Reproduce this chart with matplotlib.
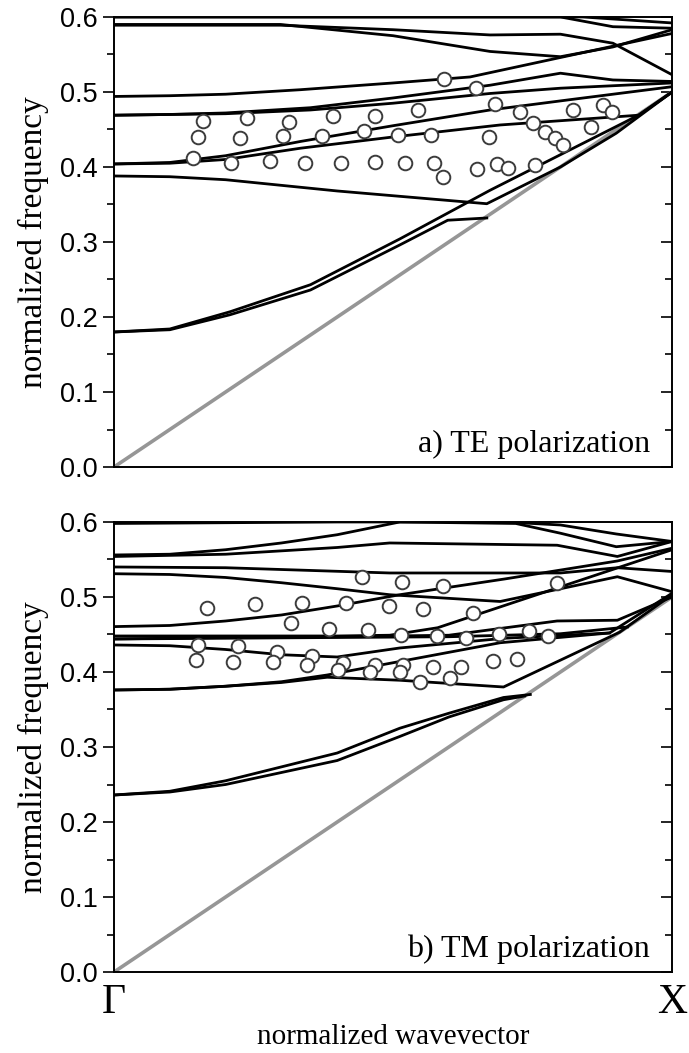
import matplotlib
matplotlib.use("Agg")
import matplotlib.pyplot as plt
from matplotlib.ticker import MultipleLocator, FormatStrFormatter

# ---- TE bands: (k, frequency) pairs, k from Gamma (0) to X (0.5)
te_bands = [
    ([0, 0.05, 0.104, 0.176, 0.256, 0.299, 0.334], [0.18, 0.183, 0.203, 0.236, 0.296, 0.329, 0.332]),
    ([0, 0.05, 0.104, 0.176, 0.256, 0.337, 0.47, 0.5], [0.18, 0.184, 0.207, 0.243, 0.304, 0.369, 0.469, 0.5]),
    ([0, 0.05, 0.1, 0.2, 0.334, 0.4, 0.45, 0.5], [0.388, 0.387, 0.383, 0.368, 0.351, 0.40, 0.445, 0.5]),
    ([0, 0.05, 0.1, 0.167, 0.25, 0.337, 0.41, 0.5], [0.404, 0.406, 0.415, 0.434, 0.455, 0.476, 0.49, 0.507]),
    ([0, 0.05, 0.1, 0.167, 0.25, 0.346, 0.47, 0.5], [0.404, 0.405, 0.41, 0.425, 0.44, 0.456, 0.469, 0.5]),
    ([0, 0.05, 0.1, 0.176, 0.25, 0.337, 0.4, 0.447, 0.5], [0.469, 0.47, 0.472, 0.479, 0.492, 0.509, 0.525, 0.516, 0.514]),
    ([0, 0.1, 0.176, 0.25, 0.337, 0.4, 0.5], [0.469, 0.471, 0.476, 0.485, 0.498, 0.505, 0.512]),
    ([0, 0.05, 0.1, 0.167, 0.25, 0.319, 0.5], [0.494, 0.495, 0.497, 0.503, 0.512, 0.52, 0.578]),
    ([0, 0.2, 0.4, 0.447, 0.5], [0.6, 0.6, 0.6, 0.587, 0.585]),
    ([0, 0.42, 0.5], [0.6, 0.6, 0.592]),
    ([0, 0.149, 0.25, 0.337, 0.4, 0.447, 0.5], [0.589, 0.589, 0.583, 0.576, 0.577, 0.565, 0.523]),
    ([0, 0.149, 0.25, 0.337, 0.4, 0.447, 0.5], [0.59, 0.59, 0.575, 0.554, 0.547, 0.56, 0.583]),
]

te_k = [0.080, 0.075, 0.071, 0.119, 0.113, 0.105, 0.157, 0.151, 0.140, 0.171,
        0.196, 0.186, 0.203, 0.234, 0.224, 0.234, 0.254, 0.261, 0.272, 0.284,
        0.287, 0.295, 0.296, 0.324, 0.341, 0.336, 0.325, 0.343, 0.364, 0.375,
        0.386, 0.395, 0.402, 0.353, 0.377, 0.411, 0.427, 0.438, 0.446]
te_f = [0.461, 0.440, 0.412, 0.465, 0.439, 0.405, 0.460, 0.441, 0.408, 0.405,
        0.468, 0.441, 0.405, 0.468, 0.448, 0.407, 0.443, 0.405, 0.476, 0.443,
        0.405, 0.387, 0.517, 0.505, 0.484, 0.440, 0.397, 0.404, 0.473, 0.459,
        0.447, 0.439, 0.429, 0.399, 0.403, 0.476, 0.453, 0.483, 0.473]

# ---- TM bands
tm_bands = [
    ([0, 0.2, 0.35, 0.4, 0.45, 0.5], [0.598, 0.6, 0.6, 0.596, 0.584, 0.574]),
    ([0, 0.05, 0.1, 0.15, 0.2, 0.256, 0.36, 0.4, 0.45, 0.5], [0.556, 0.557, 0.563, 0.572, 0.583, 0.6, 0.598, 0.585, 0.567, 0.574]),
    ([0, 0.1, 0.2, 0.247, 0.397, 0.451, 0.5], [0.554, 0.557, 0.566, 0.572, 0.569, 0.554, 0.574]),
    ([0, 0.1, 0.247, 0.4, 0.451, 0.5], [0.54, 0.539, 0.532, 0.532, 0.539, 0.534]),
    ([0, 0.05, 0.1, 0.15, 0.2, 0.247, 0.346, 0.451, 0.5], [0.531, 0.53, 0.526, 0.519, 0.511, 0.503, 0.494, 0.527, 0.507]),
    ([0, 0.05, 0.1, 0.15, 0.2, 0.256, 0.35, 0.451, 0.5], [0.4605, 0.462, 0.468, 0.476, 0.488, 0.503, 0.524, 0.548, 0.565]),
    ([0, 0.1, 0.2, 0.247, 0.29, 0.5], [0.448, 0.448, 0.448, 0.449, 0.459, 0.563]),
    ([0, 0.1, 0.2, 0.3, 0.397, 0.451, 0.5], [0.444, 0.446, 0.447, 0.449, 0.468, 0.469, 0.5]),
    ([0, 0.1, 0.3, 0.4, 0.46], [0.444, 0.445, 0.447, 0.451, 0.46]),
    ([0, 0.05, 0.1, 0.15, 0.2, 0.256, 0.35, 0.444, 0.5], [0.436, 0.435, 0.43, 0.423, 0.42, 0.432, 0.445, 0.452, 0.505]),
    ([0, 0.05, 0.1, 0.15, 0.191, 0.256, 0.349, 0.453, 0.5], [0.376, 0.377, 0.381, 0.386, 0.393, 0.389, 0.38, 0.453, 0.503]),
    ([0, 0.05, 0.1, 0.15, 0.191, 0.256, 0.346, 0.444], [0.376, 0.377, 0.381, 0.387, 0.396, 0.414, 0.439, 0.452]),
    ([0, 0.05, 0.1, 0.2, 0.256, 0.3, 0.349, 0.368], [0.236, 0.24, 0.25, 0.282, 0.314, 0.34, 0.363, 0.368]),
    ([0, 0.05, 0.1, 0.2, 0.256, 0.3, 0.349, 0.373], [0.236, 0.241, 0.255, 0.292, 0.325, 0.345, 0.366, 0.37]),
]

tm_k = [0.083, 0.126, 0.168, 0.208, 0.246, 0.222, 0.258, 0.295, 0.397, 0.159,
        0.193, 0.228, 0.257, 0.277, 0.322, 0.289, 0.315, 0.345, 0.372, 0.389,
        0.075, 0.073, 0.111, 0.107, 0.146, 0.142, 0.177, 0.173, 0.205, 0.201,
        0.234, 0.229, 0.259, 0.256, 0.286, 0.274, 0.301, 0.311, 0.340, 0.361]
tm_f = [0.485, 0.491, 0.492, 0.492, 0.488, 0.527, 0.520, 0.515, 0.519, 0.465,
        0.457, 0.456, 0.449, 0.484, 0.479, 0.448, 0.445, 0.451, 0.455, 0.448,
        0.436, 0.416, 0.435, 0.413, 0.427, 0.413, 0.421, 0.409, 0.412, 0.403,
        0.409, 0.400, 0.409, 0.400, 0.407, 0.387, 0.392, 0.407, 0.415, 0.417]

light_k = [0, 0.5]
light_f = [0, 0.5]

plt.rcParams['font.family'] = ['Liberation Sans', 'DejaVu Sans']

fig = plt.figure(figsize=(6.89, 10.53), dpi=100)
ax_te = fig.add_axes([0.1655, 0.5565, 0.8099, 0.4274])
ax_tm = fig.add_axes([0.1655, 0.0769, 0.8099, 0.4274])

serif = ['Liberation Serif', 'DejaVu Serif']


def draw_panel(ax, bands, ck, cf, label):
    ax.plot(light_k, light_f, color='#969696', lw=2.6, solid_capstyle='butt', zorder=2)
    for k, f in bands:
        ax.plot(k, f, color='black', lw=2.0, zorder=3)
    ax.plot(ck, cf, 'o', ms=9.8, mfc='white', mec='#3c3c3c', mew=1.4, zorder=4)
    ax.set_xlim(0, 0.5)
    ax.set_ylim(0, 0.6)
    ax.yaxis.set_major_locator(MultipleLocator(0.1))
    ax.yaxis.set_minor_locator(MultipleLocator(0.05))
    ax.yaxis.set_major_formatter(FormatStrFormatter('%.1f'))
    ax.tick_params(axis='y', which='both', direction='out', right=False, labelsize=19.5)
    ax.tick_params(axis='y', which='major', length=8, width=1.2)
    ax.tick_params(axis='y', which='minor', length=5, width=1.2)
    ax.set_xticks([])
    # inward ticks on the right frame
    sec = ax.secondary_yaxis('right')
    sec.yaxis.set_major_locator(MultipleLocator(0.1))
    sec.yaxis.set_minor_locator(MultipleLocator(0.05))
    sec.tick_params(which='both', direction='in', labelright=False, width=1.2)
    sec.tick_params(which='major', length=8)
    sec.tick_params(which='minor', length=5)
    sec.spines['right'].set_visible(False)
    for s in ax.spines.values():
        s.set_linewidth(1.4)
    ax.set_ylabel('normalized frequency', family=serif, fontsize=24, labelpad=8)
    ax.text(0.96, 0.033, label, transform=ax.transAxes, ha='right', va='baseline',
            family=serif, fontsize=23)


draw_panel(ax_te, te_bands, te_k, te_f, 'a) TE polarization')
draw_panel(ax_tm, tm_bands, tm_k, tm_f, 'b) TM polarization')

ax_tm.set_xticks([0, 0.5])
ax_tm.set_xticklabels(['Γ', 'X'], family=serif, fontsize=30)
ax_tm.tick_params(axis='x', length=0, pad=8)
ax_tm.set_xlabel('normalized wavevector', family=serif, fontsize=21, labelpad=2)

fig.savefig('out.png', dpi=100)
